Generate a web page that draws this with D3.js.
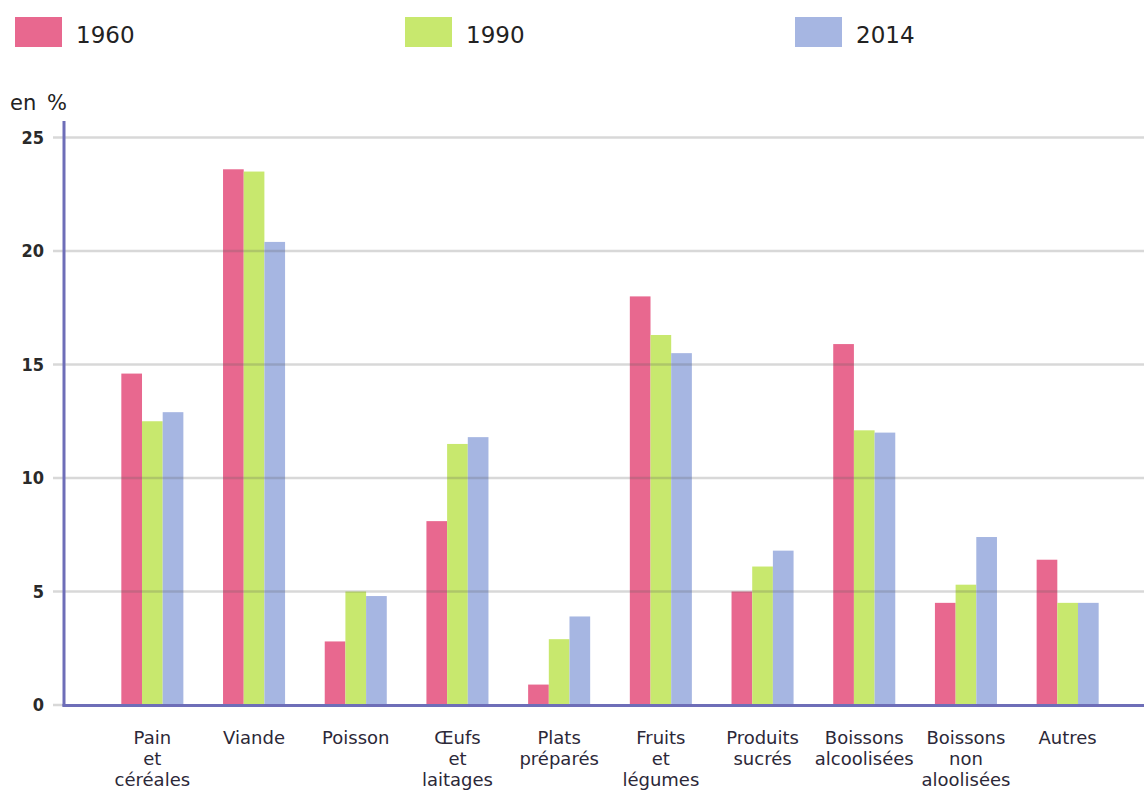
<!DOCTYPE html>
<html>
<head>
<meta charset="utf-8">
<script src="https://cdn.jsdelivr.net/npm/d3@7"></script>
<style>
  html, body { margin: 0; padding: 0; background: #fff; }
  svg { display: block; }
</style>
</head>
<body>
<svg id="chart" width="1144" height="791"></svg>
<script>
const categories = ["Pain\net\ncéréales", "Viande", "Poisson", "Œufs\net\nlaitages", "Plats\npréparés",
  "Fruits\net\nlégumes", "Produits\nsucrés", "Boissons\nalcoolisées", "Boissons\nnon\naloolisées", "Autres"];
const years = ["1960", "1990", "2014"];
const values1960 = [14.6, 23.6, 2.8, 8.1, 0.9, 18.0, 5.0, 15.9, 4.5, 6.4];
const values1990 = [12.5, 23.5, 5.0, 11.5, 2.9, 16.3, 6.1, 12.1, 5.3, 4.5];
const values2014 = [12.9, 20.4, 4.8, 11.8, 3.9, 15.5, 6.8, 12.0, 7.4, 4.5];
const yTicks = [0, 5, 10, 15, 20, 25];
const colors = ["#e8688f", "#c8e86e", "#a6b6e2"];
const unitLabel = "en %";

const seriesValues = [values1960, values1990, values2014];
const svg = d3.select("#chart");

const y = d3.scaleLinear().domain([0, 25]).range([705, 137.5]);
const x0 = d3.scaleBand().domain(d3.range(categories.length)).range([101.5, 1118.5])
  .paddingInner(0.39).paddingOuter(0.195);
const x1 = d3.scaleBand().domain(years).range([0, x0.bandwidth()]).padding(0);

const gridG = svg.append("g");
const barsG = svg.append("g");
categories.forEach((c, i) => {
  const g = barsG.append("g").attr("transform", `translate(${x0(i)},0)`);
  g.selectAll("rect").data(years.map((yr, k) => ({yr, v: seriesValues[k][i], k})))
    .join("rect")
    .attr("x", d => x1(d.yr))
    .attr("width", x1.bandwidth())
    .attr("y", d => y(d.v))
    .attr("height", d => y(0) - y(d.v))
    .attr("fill", d => colors[d.k]);
});
gridG.raise();
gridG.selectAll("line").data(yTicks.filter(t => t > 0)).join("line")
  .attr("x1", 53).attr("x2", 1144)
  .attr("y1", d => y(d)).attr("y2", d => y(d))
  .attr("stroke", "rgba(90,90,90,0.24)").attr("stroke-width", 2.5);
svg.append("line").attr("x1", 53).attr("x2", 64).attr("y1", y(0)).attr("y2", y(0))
  .attr("stroke", "rgba(90,90,90,0.24)").attr("stroke-width", 2.5);

svg.append("g").selectAll("text").data(yTicks).join("text")
  .attr("x", 44).attr("y", d => y(d)).attr("dy", "0.36em")
  .attr("text-anchor", "end")
  .attr("font-family", "DejaVu Sans Condensed, DejaVu Sans")
  .attr("font-weight", "bold")
  .attr("font-size", 18).attr("fill", "#2a2a2a")
  .text(d => d);

svg.append("line").attr("x1", 64).attr("x2", 64).attr("y1", 121).attr("y2", 706.5)
  .attr("stroke", "#6e6eb8").attr("stroke-width", 3);
svg.append("line").attr("x1", 62.5).attr("x2", 1144).attr("y1", 705.5).attr("y2", 705.5)
  .attr("stroke", "#6e6eb8").attr("stroke-width", 3);

const labG = svg.append("g");
categories.forEach((c, i) => {
  const cx = x0(i) + x0.bandwidth() / 2;
  const t = labG.append("text")
    .attr("x", cx)
    .attr("y", 744)
    .attr("text-anchor", "middle")
    .attr("font-family", "DejaVu Sans")
    .attr("font-size", 18).attr("fill", "#2c2838");
  c.split("\n").forEach((line, j) => {
    t.append("tspan").attr("x", cx)
      .attr("dy", j === 0 ? 0 : 21).text(line);
  });
});

svg.append("text").attr("x", 10).attr("y", 110)
  .attr("font-family", "DejaVu Sans").attr("font-size", 21)
  .attr("word-spacing", 4).attr("fill", "#222").text(unitLabel);

const legend = svg.append("g");
years.forEach((yr, k) => {
  const lx = 15 + k * 390;
  legend.append("rect").attr("x", lx).attr("y", 17).attr("width", 47).attr("height", 30)
    .attr("fill", colors[k]);
  legend.append("text").attr("x", lx + 61).attr("y", 43)
    .attr("font-family", "DejaVu Sans").attr("font-size", 23)
    .attr("fill", "#222").text(yr);
});
</script>
</body>
</html>
